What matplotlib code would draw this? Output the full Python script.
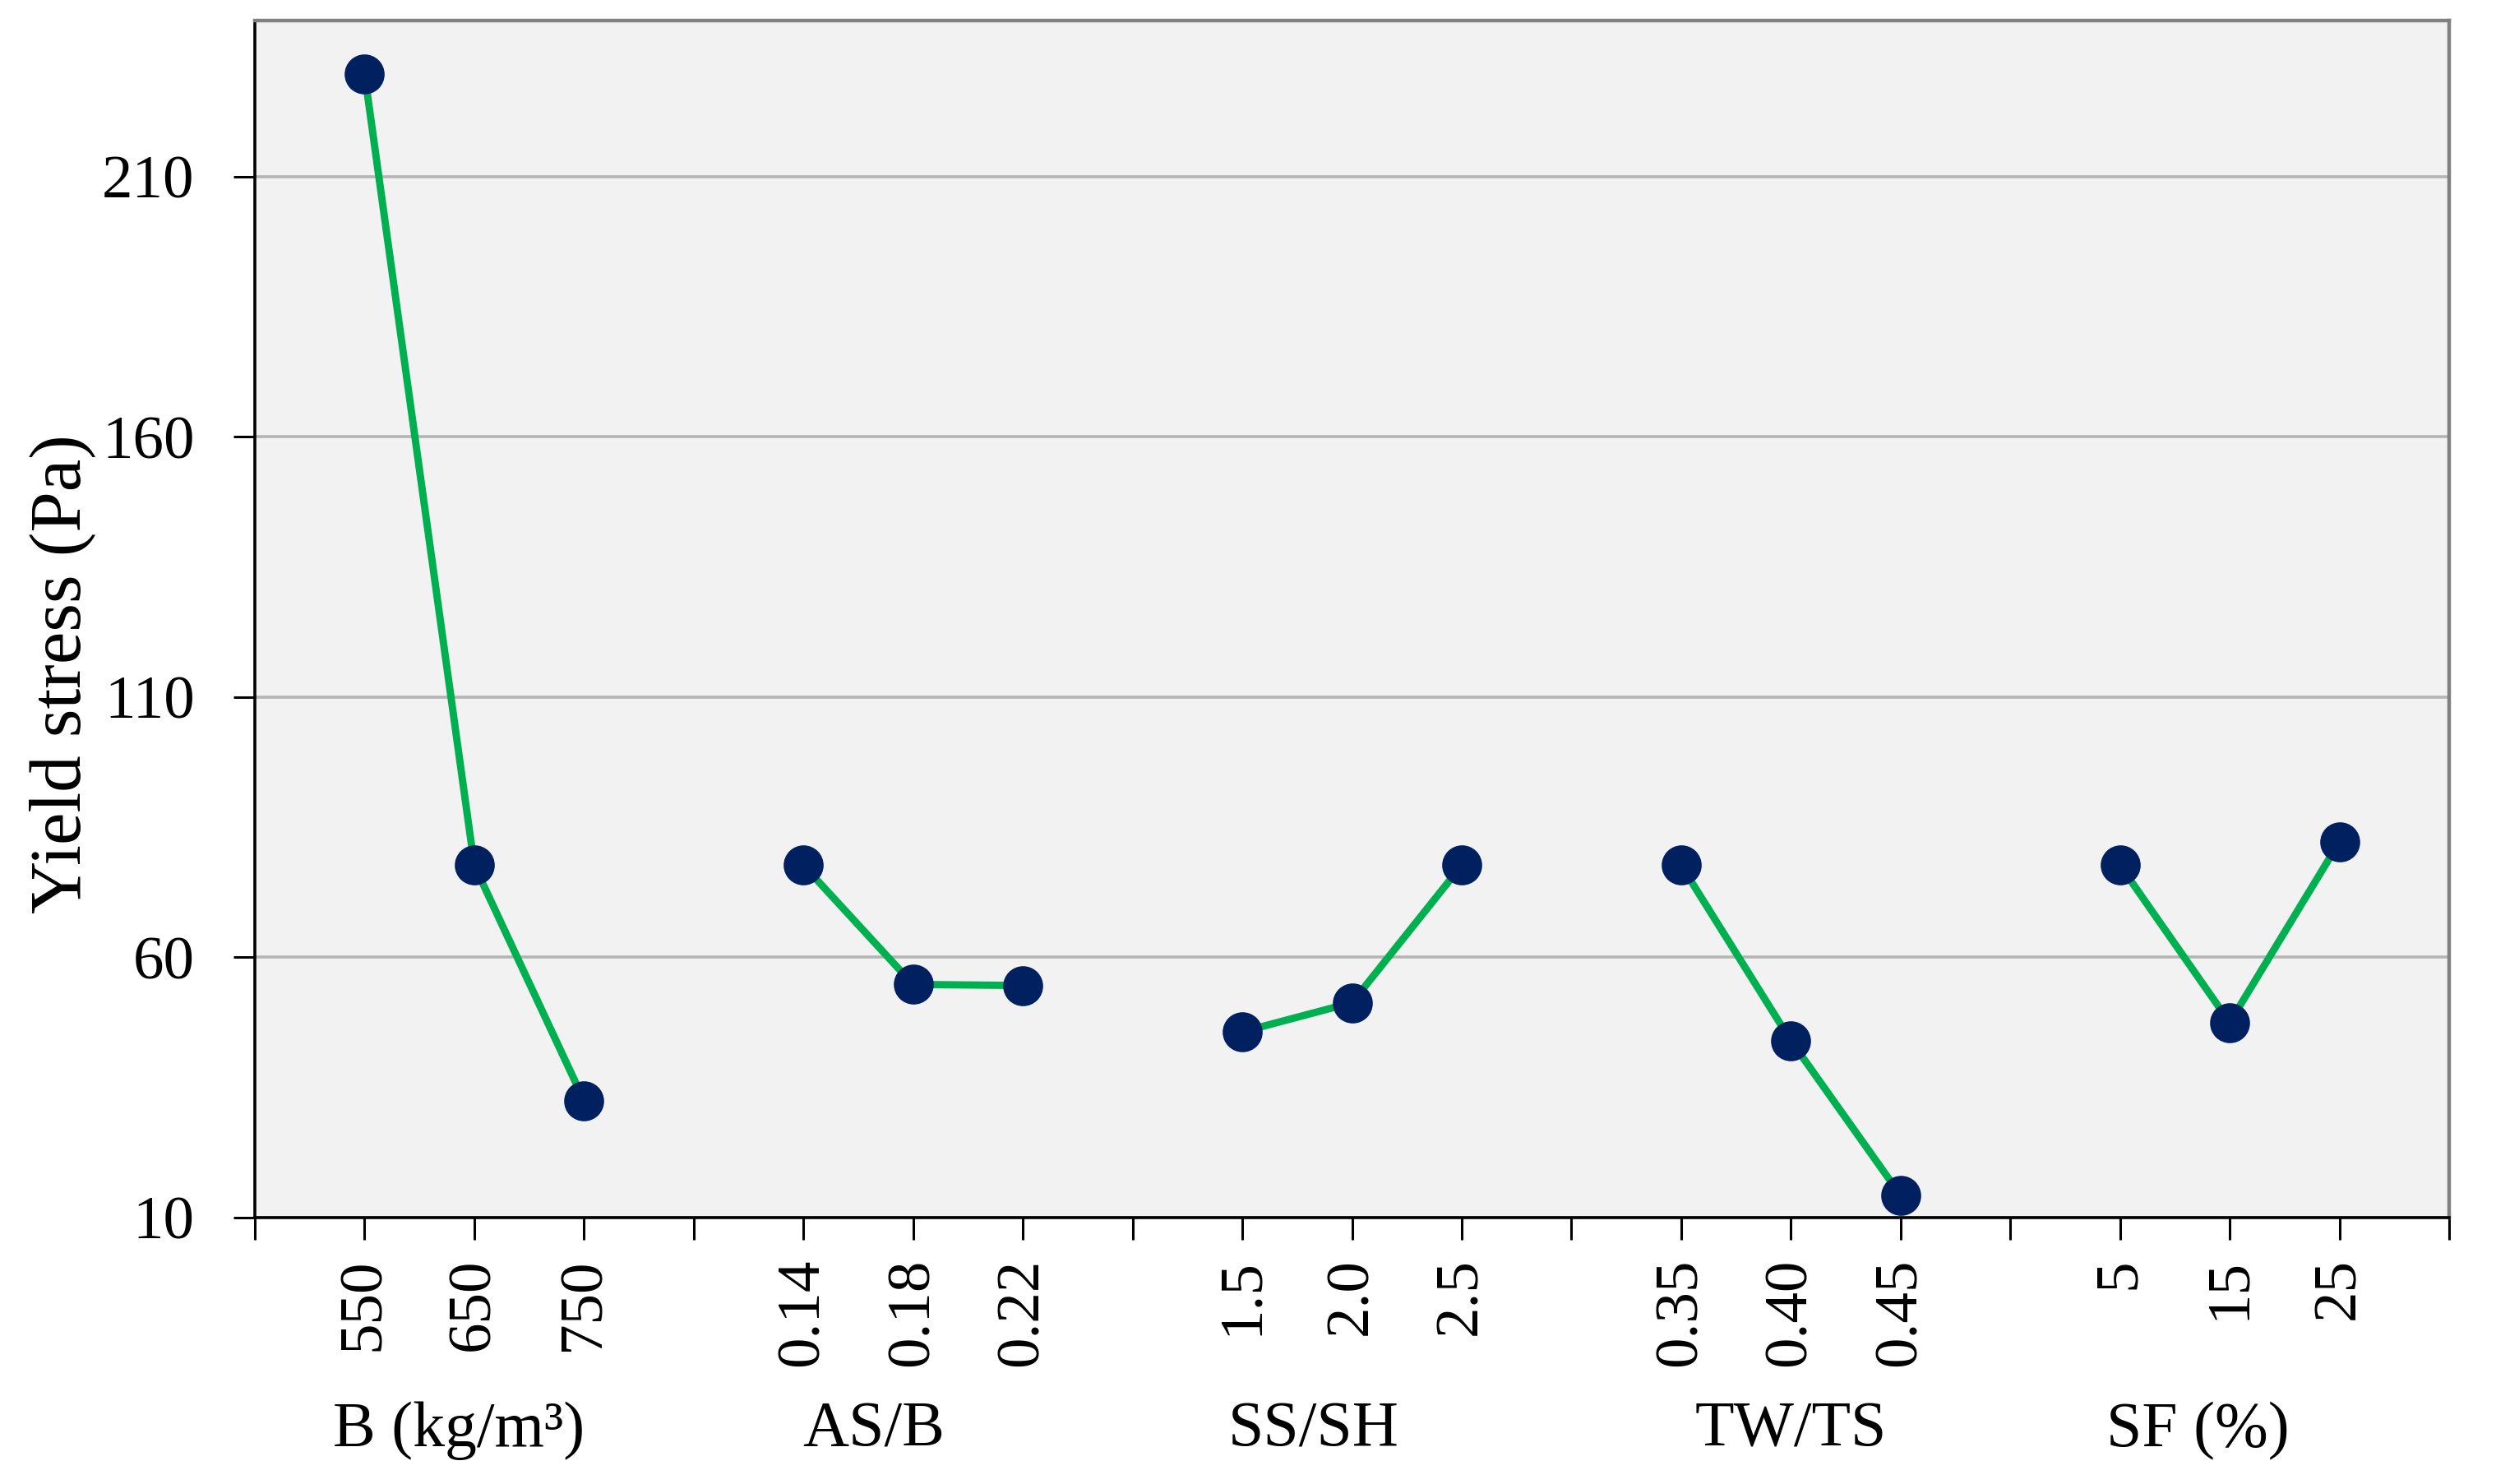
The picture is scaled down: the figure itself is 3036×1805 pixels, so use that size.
import matplotlib
matplotlib.use('Agg')
import matplotlib.pyplot as plt
import matplotlib.transforms as mtransforms

# ---- data ----
factors = ["B (kg/m³)", "AS/B", "SS/SH", "TW/TS", "SF (%)"]
levels_B = ["550", "650", "750"]
levels_ASB = ["0.14", "0.18", "0.22"]
levels_SSSH = ["1.5", "2.0", "2.5"]
levels_TWTS = ["0.35", "0.40", "0.45"]
levels_SF = ["5", "15", "25"]
vals_B = [229.8, 77.7, 32.5]
vals_ASB = [77.7, 54.8, 54.6]
vals_SSSH = [45.7, 51.3, 77.7]
vals_TWTS = [77.7, 44.0, 14.3]
vals_SF = [77.7, 47.5, 82.2]
yticks = [10, 60, 110, 160, 210]

levels = [levels_B, levels_ASB, levels_SSSH, levels_TWTS, levels_SF]
values = [vals_B, vals_ASB, vals_SSSH, vals_TWTS, vals_SF]

plt.rcParams['font.family'] = ['Liberation Serif', 'DejaVu Serif']

W, H, DPI = 3036, 1805, 200
fig = plt.figure(figsize=(W / DPI, H / DPI), dpi=DPI)
ax = fig.add_axes([310 / W, 1 - 1481 / H, (2979 - 310) / W, (1481 - 25) / H])
ax.set_facecolor('#F2F2F2')

line_color = '#00B050'
marker_color = '#002060'

tick_pos = []
tick_lab = []
group_centers = []
for g, (lv, vs) in enumerate(zip(levels, values)):
    xs = [4 * g + 1 + i for i in range(len(vs))]
    ax.plot(xs, vs, color=line_color, lw=3.2, marker='o', ms=16.5,
            mfc=marker_color, mec=marker_color, zorder=3, solid_capstyle='butt')
    tick_pos.append(4 * g)
    tick_lab.append("")
    tick_pos.extend(xs)
    tick_lab.extend(lv)
    group_centers.append(4 * g + 2)
tick_pos.append(4 * len(levels))
tick_lab.append("")

ax.set_xlim(0, 4 * len(levels))
ax.set_ylim(10, 240)
ax.set_yticks(yticks)
ax.set_xticks(tick_pos)
ax.set_xticklabels(tick_lab, rotation=90)

ax.yaxis.grid(True, color='#B4B4B4', lw=1.3)
ax.set_axisbelow(True)

for s in ['left', 'bottom']:
    ax.spines[s].set_color('black')
    ax.spines[s].set_linewidth(1.3)
for s in ['top', 'right']:
    ax.spines[s].set_color('#808080')
    ax.spines[s].set_linewidth(1.6)

ax.tick_params(axis='y', length=9.4, width=1.1, pad=17, labelsize=27)
ax.tick_params(axis='x', length=9.7, width=1.1, pad=8, labelsize=27)

ax.set_ylabel('Yield stress (Pa)', fontsize=32, va='center')
ax.yaxis.set_label_coords(-0.0877, 0.454)

# group (factor) labels under the tick labels
label_offsets = [-0.14, -0.36, -0.35, 0.0, -0.29]
trans = mtransforms.blended_transform_factory(ax.transData, fig.transFigure)
for c, off, name in zip(group_centers, label_offsets, factors):
    ax.text(c + off, 1 - 1759 / H, name, transform=trans, ha='center',
            va='baseline', fontsize=28)

fig.savefig('out.png', dpi=DPI)
